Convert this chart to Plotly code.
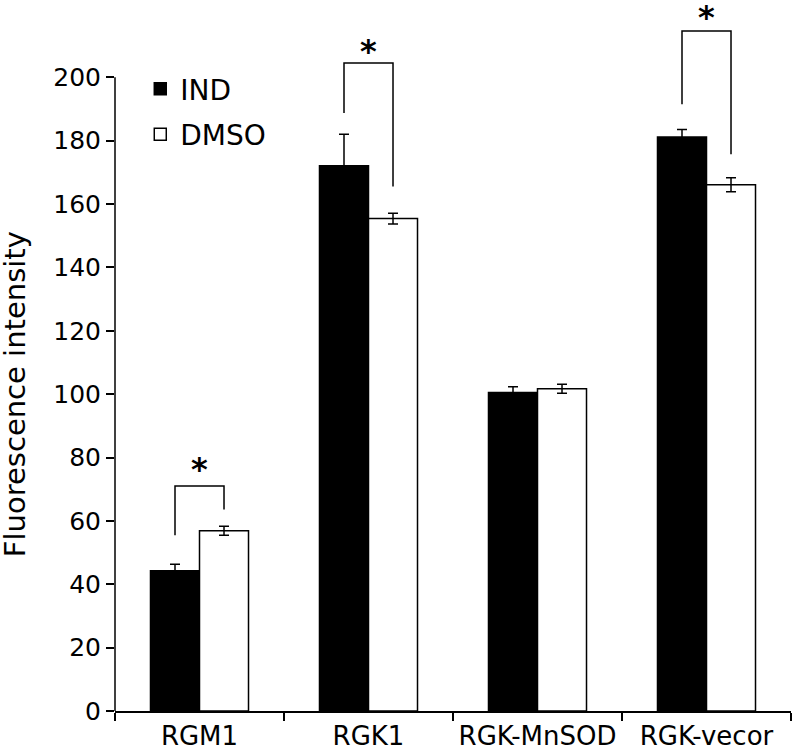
import plotly.graph_objects as go

categories = ["RGM1", "RGK1", "RGK-MnSOD", "RGK-vecor"]
ind_values = [44.3, 172.1, 100.5, 181.2]
ind_errors = [2.0, 9.9, 1.8, 2.3]
dmso_values = [56.9, 155.4, 101.7, 166.1]
dmso_errors = [1.4, 1.7, 1.4, 2.2]

# significance brackets (category index, left-leg bottom, top, right-leg bottom, star)
sig_index = [0, 1, 3]
sig_left_bottom = [55.5, 188.7, 191.5]
sig_top = [71.0, 204.5, 214.6]
sig_right_bottom = [63.6, 165.5, 175.7]
sig_star = [77.6, 209.7, 220.4]

y_ticks = [0, 20, 40, 60, 80, 100, 120, 140, 160, 180, 200]

FONT = "DejaVu Sans"
BARGAP = 0.42
W, H = 793, 748
ML, MR, MT, MB = 115, 2.3, 0, 37.3
YMAX = 224.4

fig = go.Figure()
fig.add_trace(go.Bar(
    x=categories, y=ind_values, name="IND",
    marker=dict(color="black", line=dict(color="black", width=1.5)),
    error_y=dict(type="data", array=ind_errors, color="black", thickness=1.5, width=5),
    legendgroup="a",
))
fig.add_trace(go.Bar(
    x=categories, y=dmso_values, name="DMSO",
    marker=dict(color="white", line=dict(color="black", width=1.5)),
    error_y=dict(type="data", array=dmso_errors, color="black", thickness=1.5, width=5),
    legendgroup="b",
))

half = (1 - BARGAP) / 4.0
for i, lb, tp, rb in zip(sig_index, sig_left_bottom, sig_top, sig_right_bottom):
    fig.add_trace(go.Scatter(
        x=[i - half, i - half, i + half, i + half],
        y=[lb, tp, tp, rb],
        mode="lines", line=dict(color="black", width=1.5),
        xaxis="x2", yaxis="y", showlegend=False, hoverinfo="skip",
    ))

for i, s in zip(sig_index, sig_star):
    fig.add_annotation(
        x=i, y=s, xref="x2", yref="y", text="<b>*</b>", showarrow=False,
        font=dict(family=FONT, size=32, color="black"),
        xanchor="center", yanchor="middle", yshift=-4,
    )

# y axis title
fig.add_annotation(
    x=0, y=100, xref="paper", yref="y", text="Fluorescence intensity",
    textangle=-90, showarrow=False, xanchor="center", yanchor="middle",
    xshift=-100, font=dict(family=FONT, size=29, color="black"),
)

# y axis line (0..200 only)
fig.add_shape(type="line", xref="paper", yref="y", x0=0, x1=0, y0=0, y1=y_ticks[-1],
              line=dict(color="black", width=1.5))

fig.update_layout(
    width=W, height=H,
    margin=dict(l=ML, r=MR, t=MT, b=MB, pad=0, autoexpand=False),
    paper_bgcolor="white", plot_bgcolor="white",
    barmode="group", bargap=BARGAP, bargroupgap=0,
    font=dict(family=FONT, size=25, color="black"),
    showlegend=True,
    legend=dict(
        x=0.0374, y=0.9098, xanchor="left", yanchor="top",
        bgcolor="rgba(0,0,0,0)", font=dict(family=FONT, size=28, color="black"),
        traceorder="grouped", tracegroupgap=6,
    ),
    xaxis=dict(
        type="category", range=[-0.5, 3.5], showline=True, linecolor="black", linewidth=1.5,
        ticks="outside", tickson="boundaries", ticklen=8, tickwidth=1.5, tickcolor="black",
        showgrid=False, zeroline=False, tickfont=dict(family=FONT, size=26, color="black"),
        ticklabelstandoff=1, automargin=False,
    ),
    xaxis2=dict(
        overlaying="x", range=[-0.5, 3.5], visible=False, showgrid=False, zeroline=False,
    ),
    yaxis=dict(
        range=[0, YMAX], showline=False, tickmode="array", tickvals=y_ticks,
        ticks="outside", ticklen=8, tickwidth=1.5, tickcolor="black",
        showgrid=False, zeroline=False, tickfont=dict(family=FONT, size=25, color="black"),
        automargin=False,
    ),
)

fig.write_html("out.html", config={"displayModeBar": False},
               post_script="document.body.style.margin='0';")
